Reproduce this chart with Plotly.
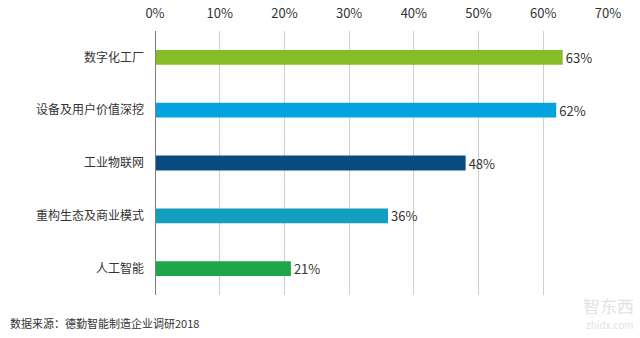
import plotly.graph_objects as go

categories = ["数字化工厂", "设备及用户价值深挖", "工业物联网", "重构生态及商业模式", "人工智能"]
values = [63, 62, 48, 36, 21]
colors = ["#84BD27", "#05A2E0", "#0C4A82", "#139DBF", "#1FA64A"]
tick_vals = [0, 10, 20, 30, 40, 50, 60, 70]
tick_text = [f"{v}%" for v in tick_vals]
source = "数据来源：德勤智能制造企业调研2018"

font_family = "Noto Sans CJK SC, Noto Sans, sans-serif"

fig = go.Figure(go.Bar(
    x=values, y=categories, orientation="h",
    marker=dict(color=colors, line=dict(width=0)),
    width=0.28,
    text=[f"{v}%" for v in values], textposition="outside",
    textfont=dict(size=13, color="#333333", family=font_family),
    constraintext="none",
    cliponaxis=False,
))

fig.update_layout(
    width=640, height=338,
    margin=dict(l=155, r=32, t=31, b=43, autoexpand=False),
    paper_bgcolor="white", plot_bgcolor="white",
    showlegend=False,
    font=dict(family=font_family, color="#333333"),
    xaxis=dict(
        range=[0, 70], side="top", tickvals=tick_vals, ticktext=tick_text,
        showgrid=True, gridcolor="#CFCFCF", gridwidth=1,
        zeroline=False, showline=False, automargin=False,
        tickfont=dict(size=13, color="#333333"),
        ticklabelstandoff=9, fixedrange=True,
    ),
    yaxis=dict(
        categoryorder="array", categoryarray=categories[::-1],
        showgrid=False, zeroline=False, showline=False, automargin=False,
        tickfont=dict(size=12, color="#333333"),
        ticklabelstandoff=10, fixedrange=True,
    ),
    shapes=[dict(type="line", xref="x", yref="paper", x0=0, x1=0, y0=0, y1=1,
                 line=dict(color="#7F7F7F", width=2))],
    annotations=[
        dict(text=source, xref="paper", yref="paper", x=-155/453 + 8/453, y=0,
             yshift=-28, xanchor="left", yanchor="middle", showarrow=False,
             font=dict(size=11, color="#333333")),
        dict(text="智东西", xref="paper", yref="paper", x=1.062, y=0, yshift=-10,
             xanchor="right", yanchor="middle", showarrow=False,
             font=dict(size=17, color="#E3E3E3")),
        dict(text="zhidx.com", xref="paper", yref="paper", x=1.062, y=0, yshift=-29,
             xanchor="right", yanchor="middle", showarrow=False,
             font=dict(size=10, color="#E3E3E3")),
    ],
)

fig.write_html("out.html")
